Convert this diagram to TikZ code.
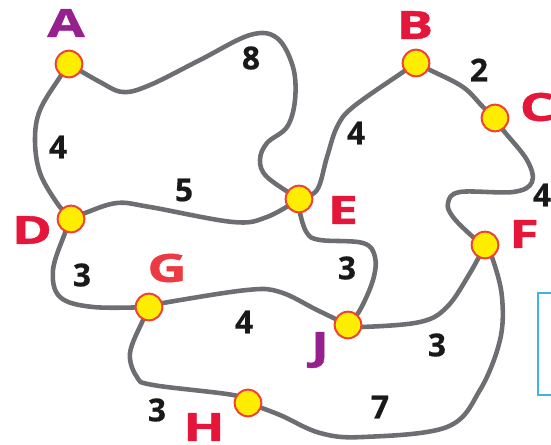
\documentclass[tikz,border=0pt]{standalone}
\usepackage{fontspec}
\setmainfont{Open Sans}[FakeBold=0.6]
\newfontfamily\widefont{Open Sans}[FakeStretch=1.4,FakeBold=1.2]
\usetikzlibrary{backgrounds}
\definecolor{roadgray}{RGB}{109,110,113}
\definecolor{vred}{RGB}{228,23,59}
\definecolor{gred}{RGB}{236,58,66}
\definecolor{vpurple}{RGB}{150,32,142}
\definecolor{ringred}{RGB}{239,65,54}
\definecolor{dotyellow}{RGB}{255,237,0}
\definecolor{boxblue}{RGB}{59,180,232}

\begin{document}
\begin{tikzpicture}[x=0.03cm,y=-0.03cm,
  vertex/.style={circle,draw=ringred,fill=dotyellow,line width=1.7pt,minimum size=0.8cm,inner sep=0pt},
  vname/.style={inner sep=0pt,text=vred,font=\widefont\bfseries\fontsize{33}{33}\selectfont},
  wt/.style={inner sep=0pt,text=black!90,font=\bfseries\fontsize{27}{27}\selectfont},
  road/.style={draw=roadgray,line width=3.9pt,line cap=round}]
        \useasboundingbox (0,0) rectangle (551,445);
        \node[vertex](A) at (69,64) {};
        \node[vertex](B) at (416,63) {};
        \node[vertex](C) at (495,118) {};
        \node[vertex](D) at (71,219) {};
        \node[vertex](E) at (299,199) {};
        \node[vertex](F) at (485,245) {};
        \node[vertex](G) at (149,307) {};
        \node[vertex](J) at (348,325) {};
        \node[vertex](H) at (248,403) {};
        \node[vname,text=vpurple](lA) at (66,23) {A};
        \node[vname](lB) at (415,25) {B};
        \node[vname](lC) at (537,107) {C};
        \node[vname](lD) at (32,230) {D};
        \node[vname](lE) at (343,210) {E};
        \node[vname](lF) at (524,234) {F};
        \node[vname,text=gred](lG) at (167,268) {G};
        \node[vname,text=vpurple](lJ) at (320,350) {J};
        \node[vname](lH) at (204,427) {H};
        \node[wt](wAE) at (251,58) {8};
        \node[wt](wAD) at (58,147) {4};
        \node[wt](wDE) at (184,190) {5};
        \node[wt](wBE) at (356,133) {4};
        \node[wt](wBC) at (479,70) {2};
        \node[wt](wCF) at (542,195) {4};
        \node[wt](wDG) at (82,275) {3};
        \node[wt](wGJ) at (244,322) {4};
        \node[wt](wGH) at (157,410) {3};
        \node[wt](wEJ) at (347,268) {3};
        \node[wt](wJF) at (437,345) {3};
        \node[wt](wHF) at (380,407) {7};
        \draw[boxblue,line width=1.2pt] (538,293) rectangle (620,395);
        \begin{scope}[on background layer]
        \draw[road] plot[smooth,tension=0.6] coordinates {(A) (100,82) (123,92) (150,85) (200,60) (250,35) (277,38) (293,67) (295,100) (287,127) (267,143) (260,160) (267,177) (E)};
        \draw[road] plot[smooth,tension=0.6] coordinates {(A) (60,77) (40,110) (35,140) (40,173) (57,203) (D)};
        \draw[road] plot[smooth,tension=0.6] coordinates {(D) (85,213) (117,203) (150,207) (233,222) (267,217) (E)};
        \draw[road] plot[smooth,tension=0.6] coordinates {(D) (65,233) (53,270) (60,297) (93,307) (G)};
        \draw[road] plot[smooth,tension=0.6] coordinates {(G) (163,303) (247,290) (280,292) (317,310) (J)};
        \draw[road] plot[smooth,tension=0.6] coordinates {(G) (143,320) (130,353) (137,377) (153,385) (233,395) (H)};
        \draw[road] plot[smooth,tension=0.6] coordinates {(H) (280,415) (320,433) (363,437) (447,427) (480,390) (500,340) (502,297) (493,260) (F)};
        \draw[road] plot[smooth,tension=0.6] coordinates {(J) (362,327) (420,322) (447,307) (470,273) (F)};
        \draw[road] plot[smooth,tension=0.6] coordinates {(E) (300,213) (307,233) (320,240) (363,243) (375,257) (373,280) (360,310) (J)};
        \draw[road] plot[smooth,tension=0.6] coordinates {(B) (403,72) (353,107) (337,127) (327,157) (317,190) (E)};
        \draw[road] plot[smooth,tension=0.6] coordinates {(B) (430,70) (463,87) (483,107) (C)};
        \draw[road] plot[smooth,tension=0.6] coordinates {(C) (503,130) (527,160) (532,182) (513,192) (460,192) (448,203) (453,217) (473,237) (F)};
        \end{scope}
        \end{tikzpicture}
\end{document}
